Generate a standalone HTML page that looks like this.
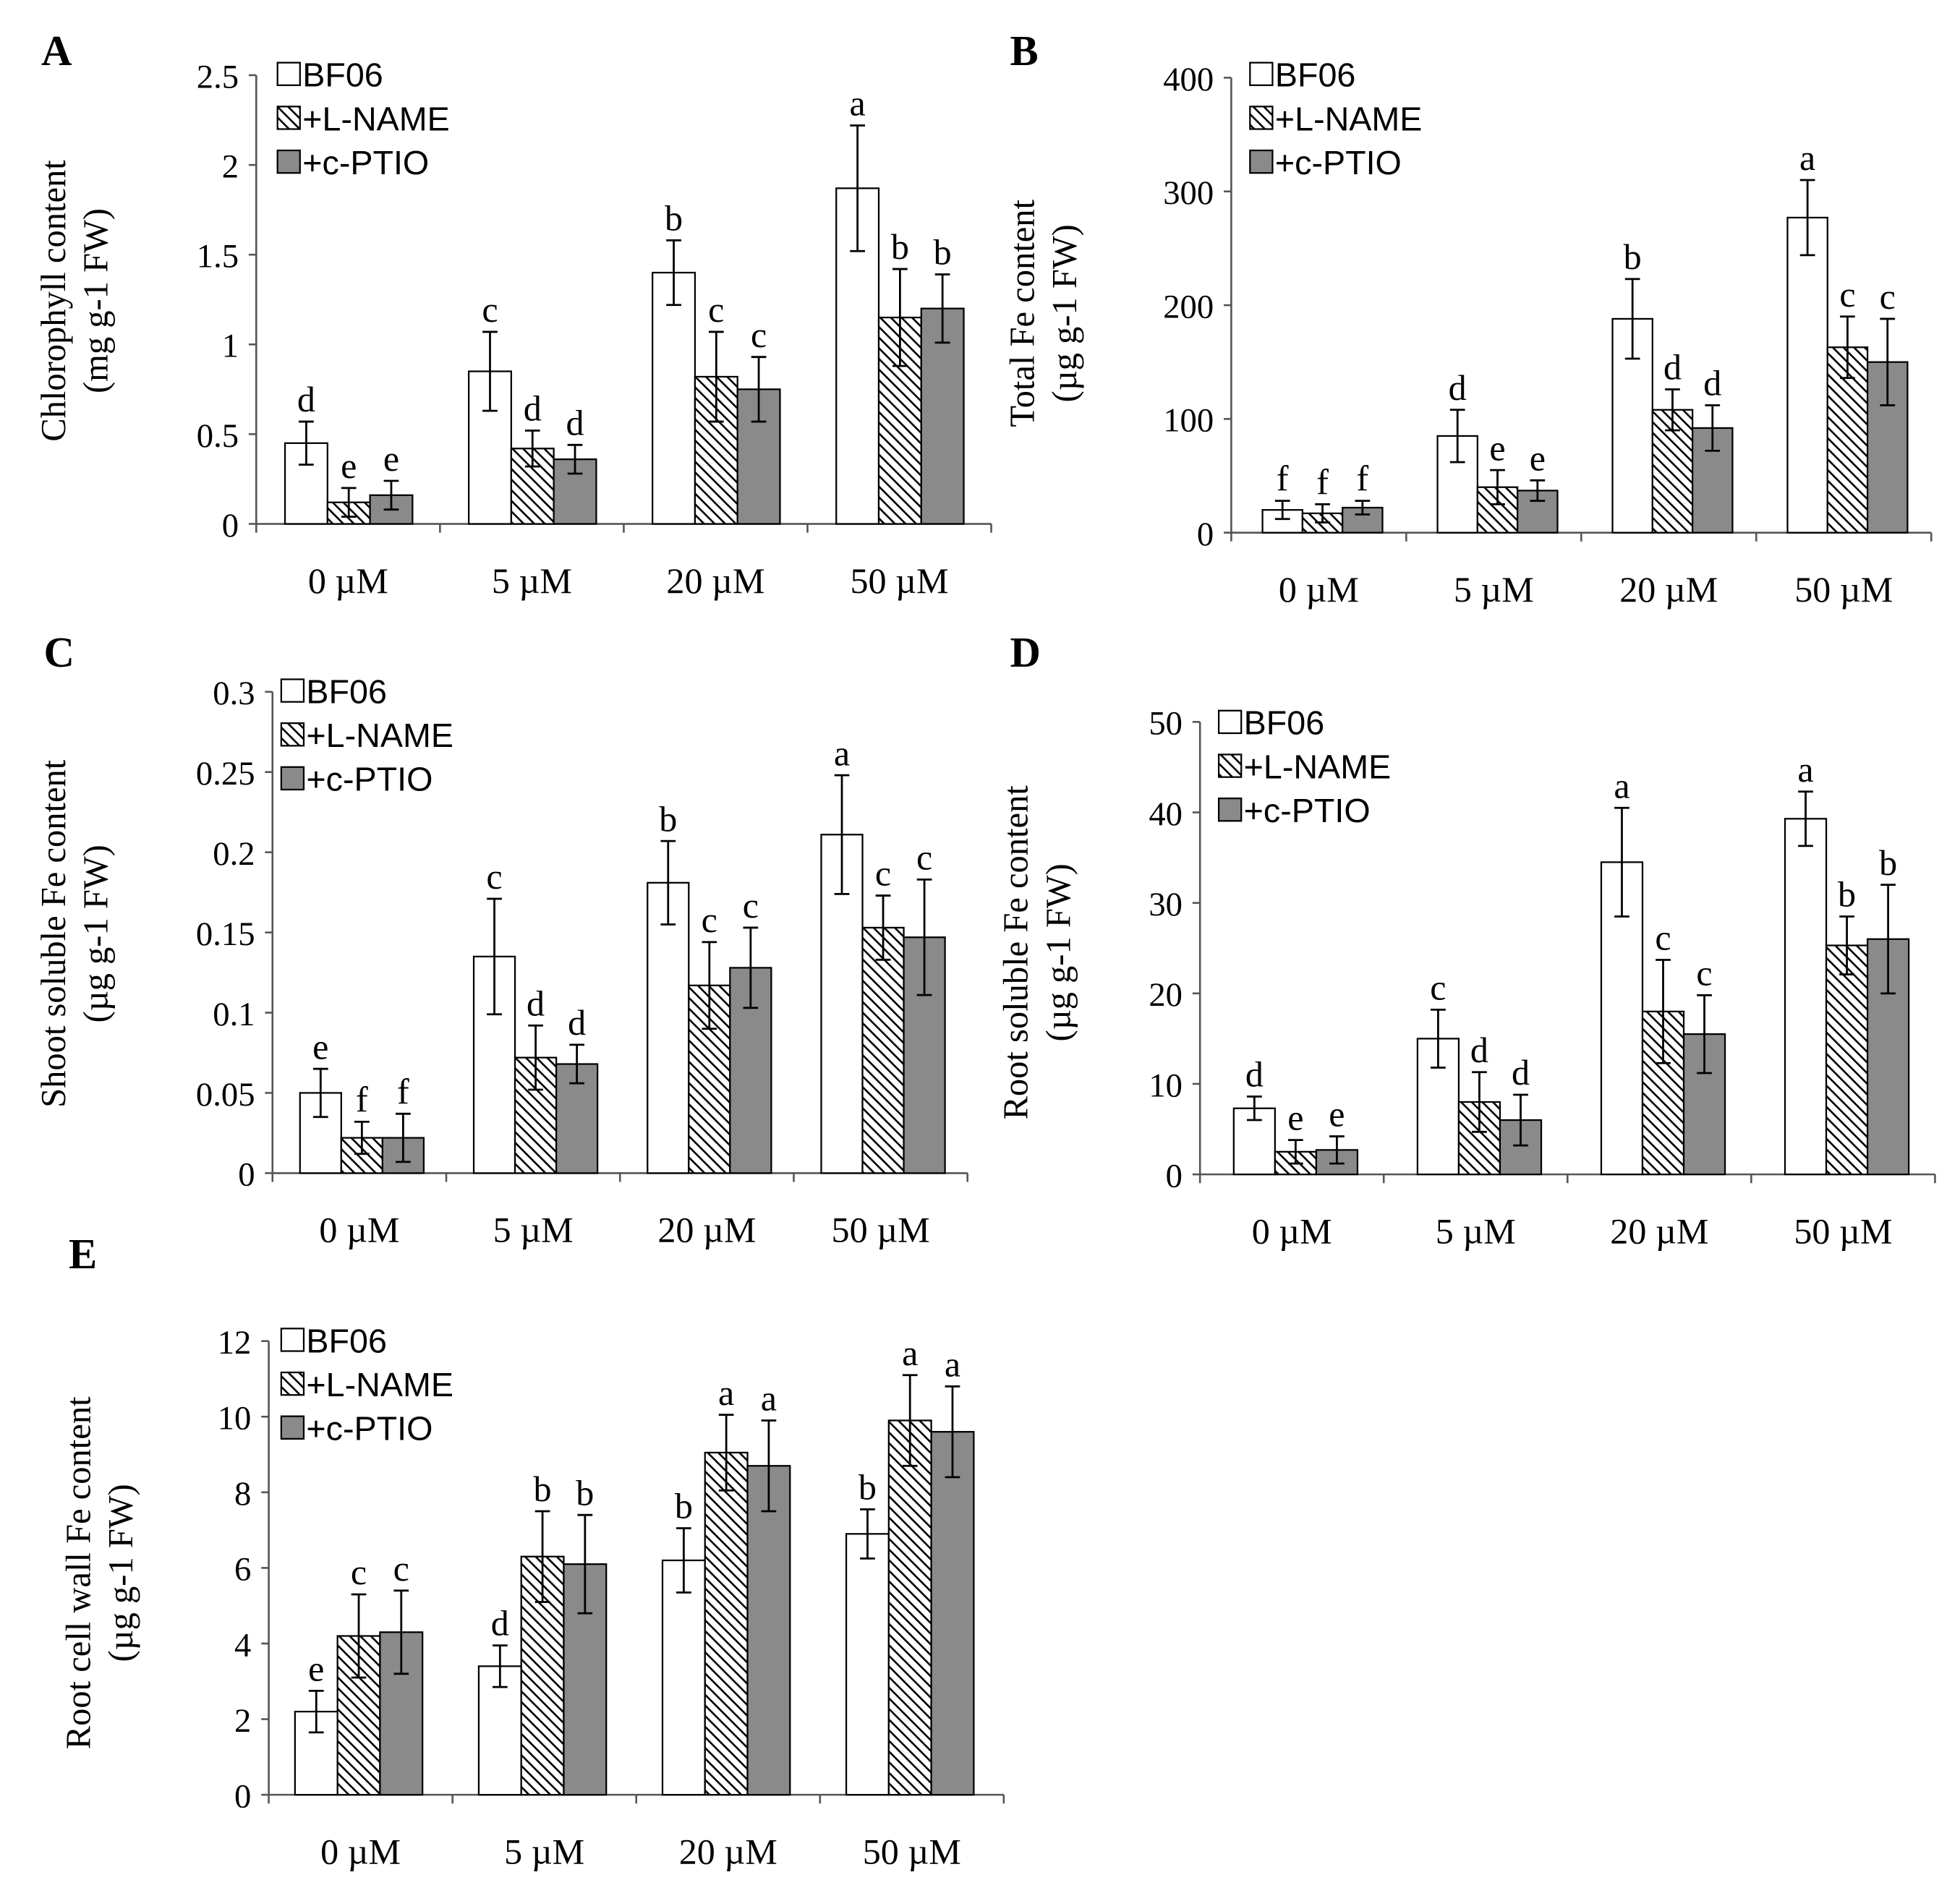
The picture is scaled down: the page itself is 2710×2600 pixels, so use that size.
<!DOCTYPE html>
<html><head><meta charset="utf-8"><style>
html,body{margin:0;padding:0;background:#fff}
svg{display:block}
text{font-family:"Liberation Serif",serif;fill:#000}
</style></head><body>
<svg id="c" width="2710" height="2600" viewBox="0 0 1568 1500" preserveAspectRatio="none" xmlns="http://www.w3.org/2000/svg">
<defs>
<pattern id="hatch" patternUnits="userSpaceOnUse" width="6" height="6" patternTransform="rotate(-45)">
<rect width="6" height="6" fill="#fff"/><line x1="0" y1="0" x2="0" y2="6" stroke="#000" stroke-width="3"/>
</pattern>
</defs>
</svg>
<script>
const categories=["0 µM","5 µM","20 µM","50 µM"];
const seriesNames=["BF06","+L-NAME","+c-PTIO"];
const aBF=[0.45,0.85,1.4,1.87], aBFe=[0.12,0.22,0.18,0.35];
const aLN=[0.12,0.42,0.82,1.15], aLNe=[0.08,0.1,0.25,0.27];
const aCP=[0.16,0.36,0.75,1.2], aCPe=[0.08,0.08,0.18,0.19];
const aLet=[["d","c","b","a"],["e","d","c","b"],["e","d","c","b"]];
const aTicks=["0","0.5","1","1.5","2","2.5"];
const bBF=[20,85,188,277], bBFe=[8,23,35,33];
const bLN=[17,40,108,163], bLNe=[8,15,18,27];
const bCP=[22,37,92,150], bCPe=[6,9,20,38];
const bLet=[["f","d","b","a"],["f","e","d","c"],["f","e","d","c"]];
const bTicks=["0","100","200","300","400"];
const cBF=[0.05,0.135,0.181,0.211], cBFe=[0.015,0.036,0.026,0.037];
const cLN=[0.022,0.072,0.117,0.153], cLNe=[0.01,0.02,0.027,0.02];
const cCP=[0.022,0.068,0.128,0.147], cCPe=[0.015,0.012,0.025,0.036];
const cLet=[["e","c","b","a"],["f","d","c","c"],["f","d","c","c"]];
const cTicks=["0","0.05","0.1","0.15","0.2","0.25","0.3"];
const dBF=[7.3,15,34.5,39.3], dBFe=[1.3,3.2,6,3];
const dLN=[2.5,8,18,25.3], dLNe=[1.3,3.3,5.7,3.2];
const dCP=[2.7,6,15.5,26], dCPe=[1.5,2.8,4.3,6];
const dLet=[["d","c","a","a"],["e","d","c","b"],["e","d","c","b"]];
const dTicks=["0","10","20","30","40","50"];
const eBF=[2.2,3.4,6.2,6.9], eBFe=[0.55,0.55,0.85,0.65];
const eLN=[4.2,6.3,9.05,9.9], eLNe=[1.1,1.2,1,1.2];
const eCP=[4.3,6.1,8.7,9.6], eCPe=[1.1,1.3,1.2,1.2];
const eLet=[["e","d","b","b"],["c","b","a","a"],["c","b","a","a"]];
const eTicks=["0","2","4","6","8","10","12"];

const svg=document.getElementById('c');
const NS="http://www.w3.org/2000/svg";
function mk(tag,attrs,parent){const e=document.createElementNS(NS,tag);for(const k in attrs)e.setAttribute(k,attrs[k]);(parent||svg).appendChild(e);return e;}
const fills=["#fff","url(#hatch)","#8a8a8a"];

function panel(p){
  const g=mk('g',{});
  
  
  const max=parseFloat(p.ticks[p.ticks.length-1]);
  const ys=v=>p.y0-(v/max)*(p.y0-p.yTop);
  const xs=(ci,si)=>p.x0+ci*p.catW+p.off+si*p.bw;
  const pl=mk('text',{x:p.lx,y:p.ly,'font-size':34,'font-weight':'bold'},g);pl.textContent=p.id;
  
  
  const ya=mk('line',{x1:p.x0,y1:p.yTop,x2:p.x0,y2:p.y0,stroke:'#555','stroke-width':1.5},g);
  
  
  const xa=mk('line',{x1:p.x0,y1:p.y0,x2:p.x0+4*p.catW,y2:p.y0,stroke:'#555','stroke-width':1.5},g);
  
  
  p.ticks.forEach(t=>{
    const y=ys(parseFloat(t));
    mk('line',{x1:p.x0-6,y1:y,x2:p.x0,y2:y,stroke:'#555','stroke-width':1.5},g);
    const tl=mk('text',{x:p.x0-14,y:y+10,'font-size':27,'text-anchor':'end'},g);tl.textContent=t;
    
    
  });
  for(let i=0;i<=4;i++)mk('line',{x1:p.x0+i*p.catW,y1:p.y0,x2:p.x0+i*p.catW,y2:p.y0+7,stroke:'#555','stroke-width':1.5},g);
  categories.forEach((c,i)=>{
    const t=mk('text',{x:p.x0+(i+0.5)*p.catW,y:p.y0+55,'font-size':29,'text-anchor':'middle'},g);t.textContent=c;
    
    
  });
  const yt=mk('text',{transform:`translate(${p.tx},${p.ty}) rotate(-90)`,'font-size':28,'text-anchor':'middle'},g);
  
  
  p.title.forEach((l,i)=>{const ts=mk('tspan',{x:0,dy:i?34:0},yt);ts.textContent=l;});
  p.series.forEach((s,si)=>{
    s.v.forEach((v,ci)=>{
      const x=xs(ci,si),y=ys(v);
      const r=mk('rect',{x:x,y:y,width:p.bw,height:p.y0-y,fill:fills[si],stroke:'#000','stroke-width':1.3},g);
      
      
      const cx=x+p.bw/2,yh=ys(v+s.e[ci]),yl=ys(Math.max(0,v-s.e[ci]));
      const eb=mk('path',{d:`M${cx},${yh}V${yl}M${cx-6},${yh}H${cx+6}M${cx-6},${yl}H${cx+6}`,stroke:'#000','stroke-width':1.6,fill:'none'},g);
      
      
      const lt=mk('text',{x:cx,y:yh-8,'font-size':29,'text-anchor':'middle'},g);lt.textContent=p.letters[si][ci];
      
      
    });
  });
  seriesNames.forEach((n,i)=>{
    const y=p.legY+i*35;
    const lg=mk('g',{},g);
    
    
    mk('rect',{x:p.legX,y:y-18,width:18,height:18,fill:fills[i],stroke:'#000','stroke-width':1.3},lg);
    const t=mk('text',{x:p.legX+20,y:y+1,'font-size':27,style:'font-family:"Liberation Sans",sans-serif'},lg);t.textContent=n;
  });
}
panel({id:'A',x0:205,y0:418,yTop:60,catW:147,off:23,bw:34,ticks:aTicks,lx:33,ly:52,tx:52,ty:240,title:['Chlorophyll content','(mg g-1 FW)'],legX:222,legY:68,
 series:[{v:aBF,e:aBFe},{v:aLN,e:aLNe},{v:aCP,e:aCPe}],letters:aLet});
panel({id:'B',x0:985,y0:425,yTop:62,catW:140,off:25,bw:32,ticks:bTicks,lx:808,ly:52,tx:827,ty:250,title:['Total Fe content','(µg g-1 FW)'],legX:1000,legY:68,
 series:[{v:bBF,e:bBFe},{v:bLN,e:bLNe},{v:bCP,e:bCPe}],letters:bLet});
panel({id:'C',x0:218,y0:936,yTop:552,catW:139,off:22,bw:33,ticks:cTicks,lx:35,ly:532,tx:52,ty:745,title:['Shoot soluble Fe content','(µg g-1 FW)'],legX:225,legY:560,
 series:[{v:cBF,e:cBFe},{v:cLN,e:cLNe},{v:cCP,e:cCPe}],letters:cLet});
panel({id:'D',x0:960,y0:937,yTop:576,catW:147,off:27,bw:33,ticks:dTicks,lx:808,ly:532,tx:822,ty:760,title:['Root soluble Fe content','(µg g-1 FW)'],legX:975,legY:585,
 series:[{v:dBF,e:dBFe},{v:dLN,e:dLNe},{v:dCP,e:dCPe}],letters:dLet});
panel({id:'E',x0:215,y0:1432,yTop:1070,catW:147,off:21,bw:34,ticks:eTicks,lx:55,ly:1012,tx:72,ty:1255,title:['Root cell wall  Fe content','(µg g-1 FW)'],legX:225,legY:1078,
 series:[{v:eBF,e:eBFe},{v:eLN,e:eLNe},{v:eCP,e:eCPe}],letters:eLet});
</script>
</body></html>
